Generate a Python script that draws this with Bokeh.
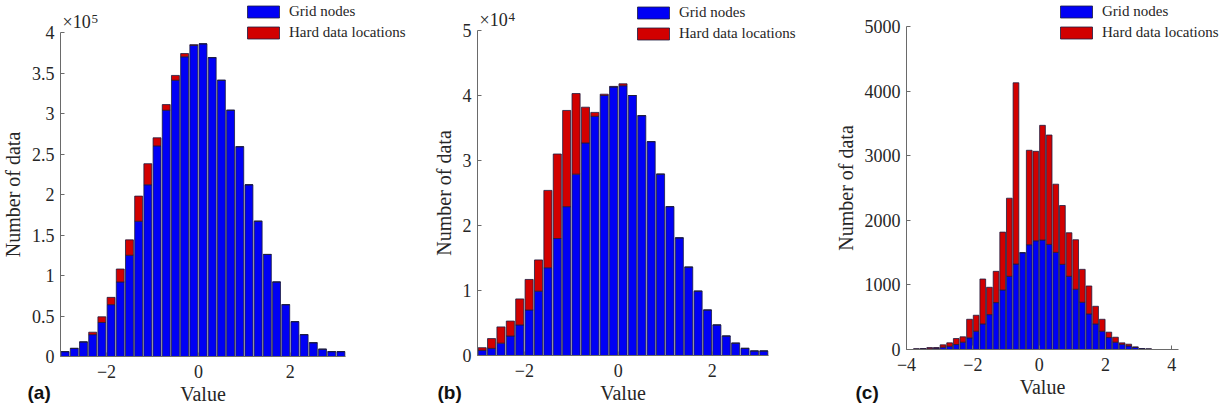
from bokeh.plotting import figure
from bokeh.layouts import row
from bokeh.models import (ColumnDataSource, FixedTicker, Range1d, Legend,
                          LegendItem, Label)
from bokeh.embed import file_html
from bokeh.resources import INLINE

# ---- histogram bins (bin width 0.2) ----
centers_ab = [-2.9, -2.7, -2.5, -2.3, -2.1, -1.9, -1.7, -1.5, -1.3, -1.1,
              -0.9, -0.7, -0.5, -0.3, -0.1, 0.1, 0.3, 0.5, 0.7, 0.9,
              1.1, 1.3, 1.5, 1.7, 1.9, 2.1, 2.3, 2.5, 2.7, 2.9, 3.1]
centers_c = [-3.7, -3.5, -3.3, -3.1, -2.9, -2.7, -2.5, -2.3, -2.1, -1.9,
             -1.7, -1.5, -1.3, -1.1, -0.9, -0.7, -0.5, -0.3, -0.1, 0.1,
             0.3, 0.5, 0.7, 0.9, 1.1, 1.3, 1.5, 1.7, 1.9, 2.1,
             2.3, 2.5, 2.7, 2.9, 3.1, 3.3]

# ---- (a) counts ----
grid_a = [6000, 10000, 18000, 27000, 42000, 64000, 92000, 125000, 167000, 212000,
          260000, 304000, 341000, 370000, 384000, 386000, 369000, 341000, 304000, 259000,
          212000, 167000, 126000, 92000, 64000, 43000, 27000, 17000, 9000, 6000, 6000]
hard_a = [0, 0, 0, 3000, 7000, 9000, 16000, 19000, 31000, 26000,
          10000, 7000, 6000, 4000, 1000, 0, 0, 0, 0, 0,
          0, 0, 0, 0, 0, 0, 0, 0, 0, 0, 0]

# ---- (b) counts ----
grid_b = [800, 1100, 1900, 3000, 4700, 7000, 9900, 13500, 18000, 22900,
          27900, 32700, 36800, 40000, 41300, 41500, 40000, 36900, 32900, 27900,
          22900, 18100, 13600, 9900, 7000, 4700, 3000, 1900, 1100, 700, 700]
hard_b = [400, 1500, 2500, 2300, 4000, 4700, 4800, 11900, 13000, 14800,
          12400, 5500, 600, 200, 100, 300, 0, 0, 0, 0,
          0, 0, 0, 0, 0, 0, 0, 0, 0, 0, 0]

# ---- (c) counts ----
grid_c = [5, 8, 10, 18, 36, 51, 77, 113, 180, 283,
          396, 540, 726, 921, 1133, 1323, 1498, 1622, 1683, 1694,
          1627, 1503, 1318, 1133, 932, 731, 551, 396, 283, 185,
          113, 80, 55, 31, 12, 6]
hard_c = [7, 7, 20, 12, 36, 52, 93, 83, 288, 247,
          695, 423, 484, 896, 1209, 2806, 0, 1462, 1385, 1776,
          1693, 1056, 911, 674, 767, 510, 432, 273, 185, 83,
          77, 23, 27, 10, 3, 4]

# ---- axis ticks ----
yticks_a = [0, 50000, 100000, 150000, 200000, 250000, 300000, 350000, 400000]
yticks_b = [0, 10000, 20000, 30000, 40000, 50000]
yticks_c = [0, 1000, 2000, 3000, 4000, 5000]
xticks_ab = [-2, 0, 2]
xticks_c = [-4, -2, 0, 2, 4]

BLUE = "#0000f5"
RED = "#d20000"
EDGE = "#1c1c40"
AXIS = "#6a6a6a"
TEXT = "#262626"
SERIF = "Liberation Serif"
H = 409


def panel(tag, centers, grid, hard, xr, ymax, yticks, xticks, exp,
          box, legend_xy):
    # The frame fills the whole canvas; the axes sit at fixed data
    # locations (x = xr[0], y = 0) and are bounded to the plotted range.
    W, L, R, T, B = box
    xs = (R - L) / (xr[1] - xr[0])          # px per x unit
    ys = (B - T) / ymax                     # px per count
    x_range = Range1d(xr[0] - L / xs, xr[1] + (W - R) / xs)
    y_range = Range1d(-(H - B) / ys, ymax + T / ys)

    p = figure(frame_width=W, frame_height=H, min_border=0,
               x_range=x_range, y_range=y_range,
               output_backend="svg", toolbar_location=None,
               background_fill_color="white", border_fill_color="white")
    p.outline_line_color = None
    p.grid.visible = False

    src = ColumnDataSource(dict(x=centers, grid=grid, hard=hard))
    rs = p.vbar_stack(["grid", "hard"], x="x", width=0.172, source=src,
                      color=[BLUE, RED], line_color=EDGE, line_width=0.8)
    for r, c in zip(rs, [BLUE, RED]):
        r.glyph.fill_color = c
        r.glyph.line_color = EDGE

    legend = Legend(items=[LegendItem(label="Grid nodes", renderers=[rs[0]]),
                           LegendItem(label="Hard data locations", renderers=[rs[1]])],
                    location=legend_xy, orientation="vertical",
                    glyph_width=40, glyph_height=15, label_height=15,
                    label_standoff=6, spacing=4, padding=0, margin=0,
                    label_text_font=SERIF, label_text_font_size="15px",
                    label_text_color=TEXT,
                    border_line_alpha=0, background_fill_alpha=0)
    p.add_layout(legend)

    for ax in (p.xaxis[0], p.yaxis[0]):
        ax.axis_line_color = AXIS
        ax.major_tick_line_color = AXIS
        ax.major_tick_in = 4
        ax.major_tick_out = 0
        ax.minor_tick_line_color = None
        ax.major_label_text_font = SERIF
        ax.major_label_text_font_size = "18px"
        ax.major_label_text_color = TEXT
        ax.axis_label_text_font = SERIF
        ax.axis_label_text_font_size = "20px"
        ax.axis_label_text_font_style = "normal"
        ax.axis_label_text_color = TEXT

    p.xaxis.fixed_location = 0
    p.xaxis.bounds = xr
    p.xaxis.ticker = FixedTicker(ticks=xticks)
    p.xaxis.axis_label = "Value"
    p.xaxis.major_label_standoff = 8
    p.xaxis.axis_label_standoff = 2

    p.yaxis.fixed_location = xr[0]
    p.yaxis.bounds = (0, ymax)
    p.yaxis.ticker = FixedTicker(ticks=yticks)
    p.yaxis.axis_label = "Number of data"
    p.yaxis.major_label_standoff = 6
    p.yaxis.axis_label_standoff = 5
    scale = 10 ** exp if exp else 1
    p.yaxis.major_label_overrides = {t: f"{t / scale:g}" for t in yticks}

    if exp:
        p.add_layout(Label(x=xr[0], y=ymax, x_offset=2, y_offset=1,
                           text="\u00d710", text_font=SERIF,
                           text_font_size="18px", text_color=TEXT,
                           text_baseline="bottom", text_align="left"))
        p.add_layout(Label(x=xr[0], y=ymax, x_offset=31, y_offset=10,
                           text=str(exp), text_font=SERIF,
                           text_font_size="13px", text_color=TEXT,
                           text_baseline="bottom", text_align="left"))

    p.add_layout(Label(x=tag[1], y=7, x_units="screen", y_units="screen",
                       text=tag[0], text_font="Liberation Sans",
                       text_font_size="19px", text_font_style="bold",
                       text_color="#111111", text_baseline="bottom",
                       text_align="left"))
    return p


pa = panel(("(a)", 27), centers_ab, grid_a, hard_a, (-3.0, 3.2), 400000,
           yticks_a, xticks_ab, 5, (410, 60, 345, 32, 356), (243, 368))
pb = panel(("(b)", 27), centers_ab, grid_b, hard_b, (-3.0, 3.2), 50000,
           yticks_b, xticks_ab, 4, (400, 67, 358, 30, 355), (223, 367))
pc = panel(("(c)", 45), centers_c, grid_c, hard_c, (-4.0, 4.2), 5000,
           yticks_c, xticks_c, 0, (415, 96, 368, 26, 349), (246, 368))

layout = row(pa, pb, pc)
open("out.html", "w").write(file_html(layout, INLINE))
